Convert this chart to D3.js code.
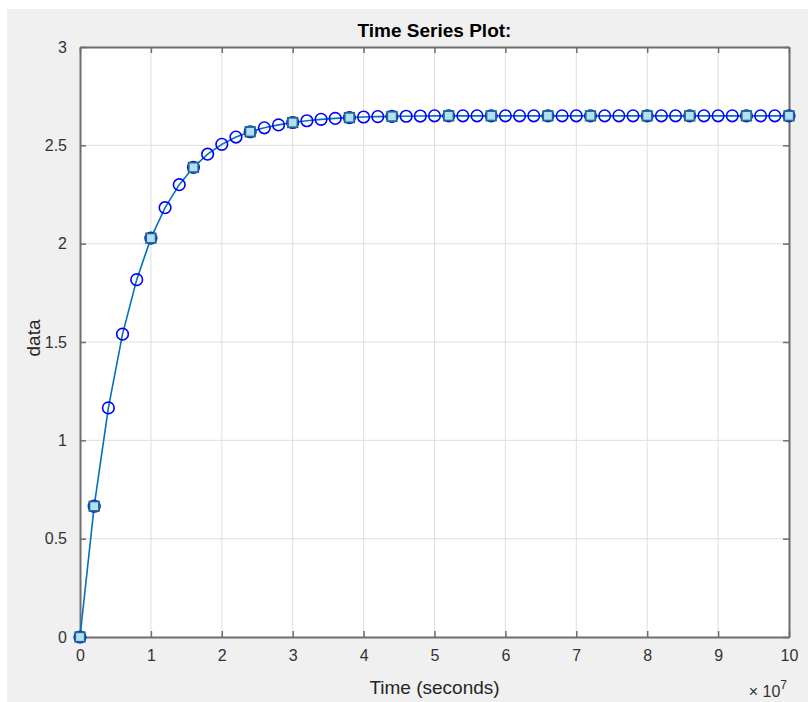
<!DOCTYPE html>
<html>
<head>
<meta charset="utf-8">
<script src="https://cdn.jsdelivr.net/npm/d3@7"></script>
<style>
  html, body { margin: 0; padding: 0; background: #fff; }
  svg { display: block; font-family: "Liberation Sans", Arial, sans-serif; }
</style>
</head>
<body>
<div id="chart"></div>
<script>
// time axis is in units of 1e7 seconds (shown by the "x10^7" label)
const circleTimes = [0, 0.2, 0.4, 0.6, 0.8, 1.0, 1.2, 1.4, 1.6, 1.8, 2.0, 2.2, 2.4, 2.6, 2.8, 3.0, 3.2, 3.4, 3.6, 3.8,
  4.0, 4.2, 4.4, 4.6, 4.8, 5.0, 5.2, 5.4, 5.6, 5.8, 6.0, 6.2, 6.4, 6.6, 6.8, 7.0, 7.2, 7.4, 7.6, 7.8,
  8.0, 8.2, 8.4, 8.6, 8.8, 9.0, 9.2, 9.4, 9.6, 9.8, 10.0];
const circleValues = [0, 0.665, 1.165, 1.54, 1.817, 2.028, 2.183, 2.30, 2.388, 2.455, 2.505, 2.542, 2.569, 2.589, 2.604, 2.616, 2.625, 2.632, 2.637, 2.641,
  2.644, 2.646, 2.647, 2.648, 2.649, 2.65, 2.65, 2.65, 2.65, 2.65, 2.65, 2.65, 2.65, 2.65, 2.65, 2.65, 2.65, 2.65, 2.65, 2.65,
  2.65, 2.65, 2.65, 2.65, 2.65, 2.65, 2.65, 2.65, 2.65, 2.65, 2.65];

const squareTimes = [0, 0.2, 1.0, 1.6, 2.4, 3.0, 3.8, 4.4, 5.2, 5.8, 6.6, 7.2, 8.0, 8.6, 9.4, 10.0];
const squareValues = [0, 0.665, 2.028, 2.388, 2.569, 2.616, 2.641, 2.647, 2.65, 2.65, 2.65, 2.65, 2.65, 2.65, 2.65, 2.65];

const xTicks = [0, 1, 2, 3, 4, 5, 6, 7, 8, 9, 10];
const yTicks = [0, 0.5, 1, 1.5, 2, 2.5, 3];
const yTickLabels = ["0", "0.5", "1", "1.5", "2", "2.5", "3"];

const width = 808,
  height = 702;
const margin = { top: 47, right: 19, bottom: 65, left: 80 };
const innerW = width - margin.left - margin.right,
  innerH = height - margin.top - margin.bottom;

const svg = d3.select("#chart").append("svg").attr("width", width).attr("height", height);

// MATLAB figure gray, with a thin white strip top/left like the screenshot
svg.append("rect").attr("x", 7).attr("y", 9).attr("width", width - 7).attr("height", height - 9).attr("fill", "#f0f0f0");

const x = d3.scaleLinear().domain([0, 10]).range([margin.left, margin.left + innerW]);
const y = d3.scaleLinear().domain([0, 3]).range([margin.top + innerH, margin.top]);

svg.append("rect")
  .attr("x", margin.left).attr("y", margin.top)
  .attr("width", innerW).attr("height", innerH)
  .attr("fill", "#fff");

// grid
const grid = svg.append("g").attr("stroke", "#dfdfdf").attr("stroke-width", 1);
grid.selectAll(".gx").data(xTicks.slice(1, -1)).join("line")
  .attr("x1", d => x(d)).attr("x2", d => x(d))
  .attr("y1", margin.top).attr("y2", margin.top + innerH);
grid.selectAll(".gy").data(yTicks.slice(1, -1)).join("line")
  .attr("y1", d => y(d)).attr("y2", d => y(d))
  .attr("x1", margin.left).attr("x2", margin.left + innerW);

const axisColor = "#6e6e6e";
const tickFont = "16px";

// axes with inward ticks, mirrored on top/right
const xAxis = svg.append("g")
  .attr("transform", `translate(0,${margin.top + innerH})`)
  .call(d3.axisBottom(x).tickValues(xTicks).tickFormat(d3.format("d")).tickSizeInner(-6).tickSizeOuter(0).tickPadding(13));
const xTop = svg.append("g")
  .attr("transform", `translate(0,${margin.top})`)
  .call(d3.axisTop(x).tickValues(xTicks).tickFormat("").tickSizeInner(-6).tickSizeOuter(0));
const yAxis = svg.append("g")
  .attr("transform", `translate(${margin.left},0)`)
  .call(d3.axisLeft(y).tickValues(yTicks).tickFormat((d, i) => yTickLabels[i]).tickSizeInner(-6).tickSizeOuter(0).tickPadding(13));
const yRight = svg.append("g")
  .attr("transform", `translate(${margin.left + innerW},0)`)
  .call(d3.axisRight(y).tickValues(yTicks).tickFormat("").tickSizeInner(-6).tickSizeOuter(0));

[xAxis, xTop, yAxis, yRight].forEach(g => {
  g.select(".domain").attr("stroke", axisColor).attr("stroke-width", 2);
  g.selectAll(".tick line").attr("stroke", axisColor).attr("stroke-width", 1.5);
  g.selectAll(".tick text").attr("fill", "#333").style("font-size", tickFont);
});

const circlePts = circleTimes.map((t, i) => [t, circleValues[i]]);
const squarePts = squareTimes.map((t, i) => [t, squareValues[i]]);

const line = d3.line().x(d => x(d[0])).y(d => y(d[1]));
svg.append("path")
  .datum(circlePts)
  .attr("d", line)
  .attr("fill", "none")
  .attr("stroke", "#0072bd")
  .attr("stroke-width", 1.6);

svg.append("g").selectAll("circle")
  .data(circlePts)
  .join("circle")
  .attr("cx", d => x(d[0])).attr("cy", d => y(d[1]))
  .attr("r", 5.8)
  .attr("fill", "none")
  .attr("stroke", "#0000ff")
  .attr("stroke-width", 1.6);

// squares on top of the circle rings
const sq = 9.5;
svg.append("g").selectAll("rect")
  .data(squarePts)
  .join("rect")
  .attr("x", d => x(d[0]) - sq / 2).attr("y", d => y(d[1]) - sq / 2)
  .attr("width", sq).attr("height", sq)
  .attr("fill", "#b4def2")
  .attr("stroke", "#1f6a8a")
  .attr("stroke-width", 1.8);

// labels
svg.append("text")
  .attr("x", margin.left + innerW / 2).attr("y", 37)
  .attr("text-anchor", "middle")
  .attr("font-weight", "bold")
  .style("font-size", "19px")
  .attr("fill", "#000")
  .text("Time Series Plot:");

svg.append("text")
  .attr("x", margin.left + innerW / 2).attr("y", 694)
  .attr("text-anchor", "middle")
  .style("font-size", "19px")
  .attr("fill", "#262626")
  .text("Time (seconds)");

svg.append("text")
  .attr("transform", `translate(40,${margin.top + innerH / 2 - 4}) rotate(-90)`)
  .attr("text-anchor", "middle")
  .style("font-size", "19px")
  .attr("fill", "#262626")
  .text("data");

const exp = svg.append("text")
  .attr("x", 787).attr("y", 697)
  .attr("text-anchor", "end")
  .style("font-size", "16px")
  .attr("fill", "#333");
exp.append("tspan").text("\u00d7 10");
exp.append("tspan").attr("dy", -8).style("font-size", "12px").text("7");
</script>
</body>
</html>
